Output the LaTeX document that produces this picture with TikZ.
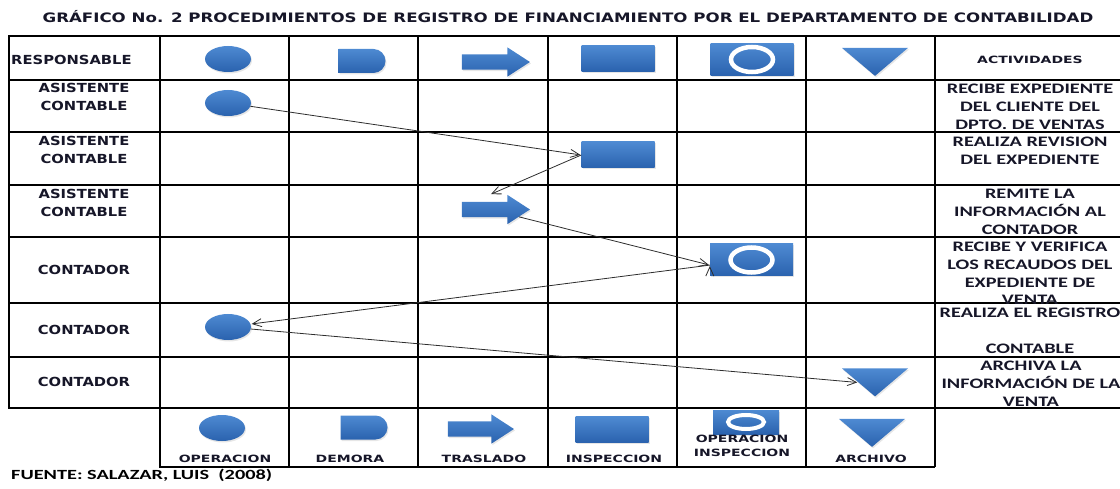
\documentclass[tikz,border=0pt]{standalone}
\usepackage{fontspec}
\newfontfamily\titlefont[FakeStretch=1.28]{DejaVu Sans}
\newfontfamily\rowfont[FakeStretch=1.18]{DejaVu Sans}
\newfontfamily\legfont[FakeStretch=1.4]{DejaVu Sans}
\newfontfamily\actfont[FakeStretch=1.4]{Carlito}
\newfontfamily\srcfont[FakeStretch=1.45]{Carlito}
\usetikzlibrary{arrows.meta,shapes.geometric,shapes.arrows,shapes.misc,shadows}
\definecolor{symtop}{RGB}{78,138,210}
\definecolor{symbot}{RGB}{42,98,174}
\definecolor{flowgray}{RGB}{45,45,45}
\definecolor{inktext}{RGB}{22,22,40}

\begin{document}
\begin{tikzpicture}[x=1pt,y=-1pt,>={Straight Barb[length=9pt,width=8pt]},shorten >=1pt,
    sym/.style={inner sep=0pt,top color=symtop,bottom color=symbot,
        drop shadow={opacity=0.2,shadow xshift=1pt,shadow yshift=-1.5pt}},
    oper/.style={sym,ellipse,minimum width=46pt,minimum height=26pt},
    demora/.style={sym,rounded rectangle,rounded rectangle left arc=none,minimum width=47pt,minimum height=24pt},
    traslado/.style={sym,single arrow,minimum height=68pt,single arrow head extend=7pt,
        inner xsep=0pt,inner ysep=7.5pt,single arrow tip angle=66},
    insp/.style={sym,rectangle,minimum width=73pt,minimum height=26pt},
    opinsp/.style={sym,rectangle,minimum width=83pt,minimum height=32pt,
        path picture={\draw[white,line width=4.5pt] (path picture bounding box.center) ellipse [x radius=21pt,y radius=12.5pt];}},
    archivo/.style={sym,isosceles triangle,isosceles triangle stretches,shape border rotate=270,
        minimum width=66pt,minimum height=28pt},
    grid/.style={line width=2.2pt,line cap=rect},
    flow/.style={->,draw=flowgray,line width=0.8pt},
    lbl/.style={inner sep=0pt,align=center,text=inktext,font=\rowfont\bfseries\fontsize{12.5}{17.5}\selectfont},
    act/.style={inner sep=0pt,align=center,text=inktext,font=\actfont\bfseries\fontsize{14.5}{17.8}\selectfont},
    leg/.style={inner sep=0pt,align=center,text=inktext,font=\legfont\bfseries\fontsize{10}{14}\selectfont}]

    \useasboundingbox (0,0) rectangle (1120,489);

    % title and source
    \node[inner sep=0pt,font=\titlefont\bfseries\fontsize{13}{15}\selectfont,text=inktext] (title) at (568,17)
        {GRÁFICO No. 2 PROCEDIMIENTOS DE REGISTRO DE FINANCIAMIENTO POR EL DEPARTAMENTO DE CONTABILIDAD};
    \node[inner sep=0pt,anchor=west,font=\srcfont\bfseries\fontsize{14}{16}\selectfont] (src) at (11,475)
        {FUENTE: SALAZAR, LUIS~~(2008)};

    % table
    \draw[grid] (9,36) -- (1120,36) (9,80) -- (1120,80) (9,132) -- (1120,132) (9,185) -- (1120,185)
        (9,237) -- (1120,237) (9,303) -- (1120,303) (9,357) -- (1120,357) (9,408) -- (1120,408)
        (160,467) -- (935,467);
    \draw[grid] (9,36) -- (9,408) (160,36) -- (160,467) (289,36) -- (289,467) (418,36) -- (418,467)
        (548,36) -- (548,467) (677,36) -- (677,467) (806,36) -- (806,467) (935,36) -- (935,467);

    % responsables
    \node[lbl,anchor=west] (r0) at (11,60) {RESPONSABLE};
    \node[lbl] (r1) at (84,97) {ASISTENTE\\CONTABLE};
    \node[lbl] (r2) at (84,150) {ASISTENTE\\CONTABLE};
    \node[lbl] (r3) at (84,203) {ASISTENTE\\CONTABLE};
    \node[lbl] (r4) at (84,270) {CONTADOR};
    \node[lbl] (r5) at (84,330) {CONTADOR};
    \node[lbl] (r6) at (84,382) {CONTADOR};

    % actividades
    \node[leg] (a0) at (1030,60) {ACTIVIDADES};
    \node[act] (a1) at (1030,107) {RECIBE EXPEDIENTE\\DEL CLIENTE DEL\\DPTO. DE VENTAS};
    \node[act] (a2) at (1030,150.5) {REALIZA REVISION\\DEL EXPEDIENTE};
    \node[act] (a3) at (1030,212) {REMITE LA\\INFORMACIÓN AL\\CONTADOR};
    \node[act] (a4) at (1030,273.5) {RECIBE Y VERIFICA\\LOS RECAUDOS DEL\\EXPEDIENTE DE\\VENTA};
    \node[act] (a5) at (1030,331) {REALIZA EL REGISTRO\\~\\CONTABLE};
    \node[act] (a6) at (1031,383.5) {ARCHIVA LA\\INFORMACIÓN DE LA\\VENTA};

    % header symbols
    \node[oper] (h1) at (228,59) {};
    \node[demora] (h2) at (362,61) {};
    \node[traslado] (h3) at (490,62) {};
    \node[insp] (h4) at (618,58.5) {};
    \node[opinsp] (h5) at (752,59.5) {};
    \node[archivo] (h6) at (875,60) {};

    % flow
    \node[oper] (f1) at (228,103) {};
    \node[insp] (f2) at (618,155) {};
    \node[traslado] (f3) at (490,209.5) {};
    \node[opinsp] (f4) at (751.5,260) {};
    \node[oper] (f5) at (228,327) {};
    \node[archivo] (f6) at (875,380.5) {};

    \path[flow] (f1) edge (f2.west)
                (f2.west) edge ([yshift=7pt]f3.north)
                (f3) edge (f4.187)
                (f4.187) edge (f5)
                (f5) edge (f6.right side);

    % legend
    \node[oper] (l1) at (222,428) {};
    \node[demora] (l2) at (364,427.5) {};
    \node[traslado,minimum height=66pt] (l3) at (475,429) {};
    \node[insp] (l4) at (612,429.5) {};
    \node[opinsp,minimum width=66pt,minimum height=24pt,
        path picture={\draw[white,line width=4pt] (path picture bounding box.center) ellipse [x radius=18pt,y radius=7pt];}] (l5) at (746,422) {};
    \node[archivo] (l6) at (872,431) {};

    \node[leg] (t1) at (225,459) {OPERACION};
    \node[leg] (t2) at (350,459) {DEMORA};
    \node[leg] (t3) at (484,459) {TRASLADO};
    \node[leg] (t4) at (614,459) {INSPECCION};
    \node[leg,font=\legfont\bfseries\fontsize{10}{13.5}\selectfont] (t5) at (742,446) {OPERACION\\INSPECCION};
    \node[leg] (t6) at (871,459) {ARCHIVO};
\end{tikzpicture}
\end{document}
